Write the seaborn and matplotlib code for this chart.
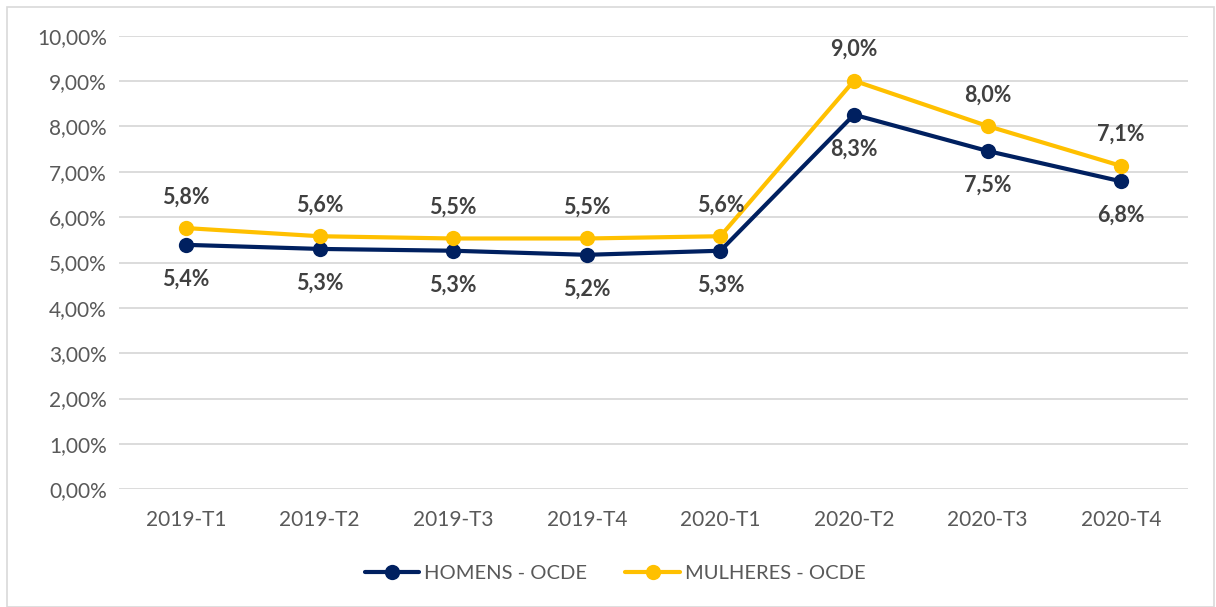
import matplotlib
matplotlib.use("Agg")
import matplotlib.pyplot as plt
import matplotlib.patches as mpatches
from matplotlib.ticker import FuncFormatter
import pandas as pd
import seaborn as sns

quarters = ["2019-T1", "2019-T2", "2019-T3", "2019-T4",
            "2020-T1", "2020-T2", "2020-T3", "2020-T4"]
homens = [5.39, 5.30, 5.26, 5.17, 5.26, 8.26, 7.46, 6.79]
mulheres = [5.76, 5.58, 5.53, 5.53, 5.58, 9.01, 8.01, 7.13]

series_names = ["HOMENS - OCDE", "MULHERES - OCDE"]
colors = {"HOMENS - OCDE": "#002060", "MULHERES - OCDE": "#FFC000"}

df = pd.concat([
    pd.DataFrame({"trimestre": quarters, "taxa": homens, "serie": series_names[0]}),
    pd.DataFrame({"trimestre": quarters, "taxa": mulheres, "serie": series_names[1]}),
], ignore_index=True)

sns.set_style("white")
plt.rcParams["font.family"] = ["Lato", "DejaVu Sans"]

fig = plt.figure(figsize=(12.16, 6.07), dpi=100)
ax = fig.add_axes([0.098, 0.194, 0.879, 0.747])

sns.lineplot(data=df, x="trimestre", y="taxa", hue="serie", hue_order=series_names,
             palette=colors, marker="o", markersize=11, markeredgewidth=0,
             linewidth=3, sort=False, ax=ax)

# data labels: women above, men below
for i, v in enumerate(mulheres):
    ax.annotate(f"{v:.1f}%".replace(".", ","), (i, v), xytext=(0, 15),
                textcoords="offset points", ha="center", va="bottom",
                fontsize=15.5, fontweight="bold", color="#404040")
for i, v in enumerate(homens):
    ax.annotate(f"{v:.1f}%".replace(".", ","), (i, v), xytext=(0, -17),
                textcoords="offset points", ha="center", va="top",
                fontsize=15.5, fontweight="bold", color="#404040")

ax.set_ylim(0, 10)
ax.set_xlim(-0.5, len(quarters) - 0.5)
ax.set_yticks(range(0, 11))
ax.yaxis.set_major_formatter(FuncFormatter(lambda y, _: f"{y:.2f}%".replace(".", ",")))
ax.grid(axis="y", color="#D9D9D9", linewidth=1.3)
ax.set_axisbelow(True)
for s in ax.spines.values():
    s.set_visible(False)
ax.tick_params(axis="both", length=0, labelsize=15, labelcolor="#595959", pad=9)
ax.tick_params(axis="x", pad=15)
ax.set_xlabel("")
ax.set_ylabel("")

ax.legend(loc="center", bbox_to_anchor=(0.464, -0.186), ncol=2, frameon=False,
          handlelength=2.7, handletextpad=0.25, columnspacing=1.9,
          prop={"size": 14.5}, labelcolor="#595959")

fig.patches.append(mpatches.Rectangle((0.006, 0.0), 0.992, 0.988, transform=fig.transFigure,
                                      fill=False, edgecolor="#D9D9D9", linewidth=1.2))

fig.savefig("out.png", dpi=100)
